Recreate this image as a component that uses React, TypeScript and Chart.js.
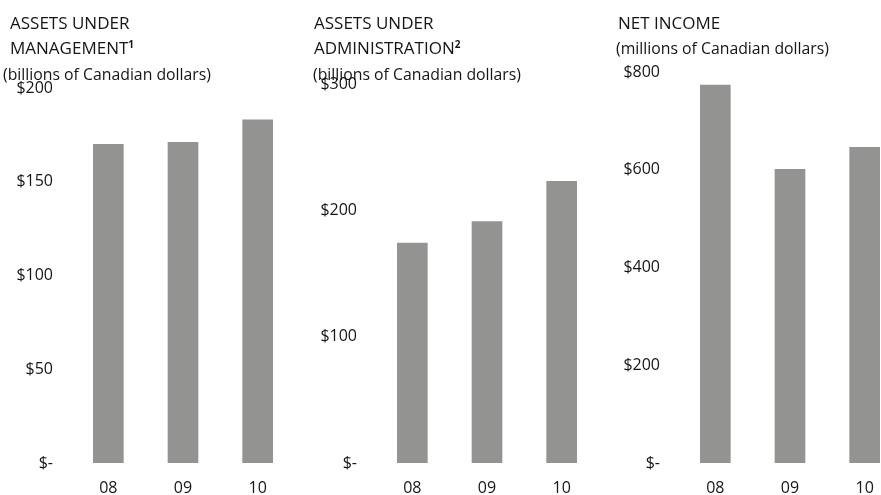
import React, { useEffect, useRef } from "react";
import { Chart, registerables } from "chart.js";

Chart.register(...registerables);

const categories = ["08", "09", "10"];
const aumValues = [170, 171, 183];
const auaValues = [174, 191, 223];
const netIncomeValues = [773, 601, 646];

const aumAxis = { max: 200, step: 50 };
const auaAxis = { max: 300, step: 100 };
const niAxis = { max: 800, step: 200 };

const BAR_COLOR = "#939491";
const TEXT_COLOR = "#151515";
const FONT = "'Open Sans', 'DejaVu Sans', sans-serif";

type PanelProps = {
  left: number;
  values: number[];
  max: number;
  step: number;
  padTop: number;
};

function Panel({ left, values, max, step, padTop }: PanelProps) {
  const ref = useRef<HTMLCanvasElement | null>(null);
  useEffect(() => {
    if (!ref.current) return;
    const chart = new Chart(ref.current, {
      type: "bar",
      data: {
        labels: categories,
        datasets: [
          {
            data: values,
            backgroundColor: BAR_COLOR,
            borderWidth: 0,
            barThickness: 30,
          },
        ],
      },
      options: {
        responsive: false,
        animation: false,
        devicePixelRatio: 1,
        layout: { padding: { top: padTop, bottom: 0, left: 0, right: 0 } },
        plugins: { legend: { display: false }, tooltip: { enabled: false }, title: { display: false } },
        scales: {
          x: {
            grid: { display: false, drawTicks: false },
            border: { display: false },
            ticks: {
              color: TEXT_COLOR,
              font: { family: FONT, size: 16, lineHeight: 1 },
              padding: 17,
              maxRotation: 0,
            },
          },
          y: {
            min: 0,
            max: max,
            grid: { display: false, drawTicks: false },
            border: { display: false },
            afterFit: (s: any) => {
              s.width = 71;
            },
            ticks: {
              stepSize: step,
              color: TEXT_COLOR,
              font: { family: FONT, size: 16, lineHeight: 1 },
              padding: 18,
              callback: (v: any) => (Number(v) === 0 ? "$-" : "$" + v),
            },
          },
        },
      },
    });
    return () => chart.destroy();
  }, []);
  return (
    <canvas
      ref={ref}
      width={295}
      height={513}
      style={{ position: "absolute", left, top: 0, width: 295, height: 513 }}
    />
  );
}

const titleStyle: React.CSSProperties = {
  position: "absolute",
  fontFamily: FONT,
  fontSize: 17,
  color: TEXT_COLOR,
  whiteSpace: "nowrap",
  lineHeight: "20px",
};
const subStyle: React.CSSProperties = {
  position: "absolute",
  fontFamily: FONT,
  fontSize: 15.8,
  color: TEXT_COLOR,
  whiteSpace: "nowrap",
  lineHeight: "20px",
};
const supStyle: React.CSSProperties = { fontSize: 10, fontWeight: 700, verticalAlign: "6px", lineHeight: 0 };

export default function App() {
  return (
    <div
      style={{
        position: "fixed",
        left: 0,
        top: 0,
        width: 881,
        height: 495,
        overflow: "hidden",
        background: "#ffffff",
      }}
    >
      <Panel left={0} values={aumValues} max={aumAxis.max} step={aumAxis.step} padTop={88} />
      <Panel left={304} values={auaValues} max={auaAxis.max} step={auaAxis.step} padTop={84} />
      <Panel left={607} values={netIncomeValues} max={niAxis.max} step={niAxis.step} padTop={72} />

      <div style={{ ...titleStyle, left: 10, top: 13 }}>ASSETS UNDER</div>
      <div style={{ ...titleStyle, left: 10, top: 38 }}>
        MANAGEMENT<span style={supStyle}>1</span>
      </div>
      <div style={{ ...subStyle, left: 3, top: 64 }}>(billions of Canadian dollars)</div>

      <div style={{ ...titleStyle, left: 314, top: 13 }}>ASSETS UNDER</div>
      <div style={{ ...titleStyle, left: 314, top: 38 }}>
        ADMINISTRATION<span style={supStyle}>2</span>
      </div>
      <div style={{ ...subStyle, left: 313, top: 64 }}>(billions of Canadian dollars)</div>

      <div style={{ ...titleStyle, left: 618, top: 13 }}>NET INCOME</div>
      <div style={{ ...subStyle, left: 616, top: 38 }}>(millions of Canadian dollars)</div>
    </div>
  );
}
